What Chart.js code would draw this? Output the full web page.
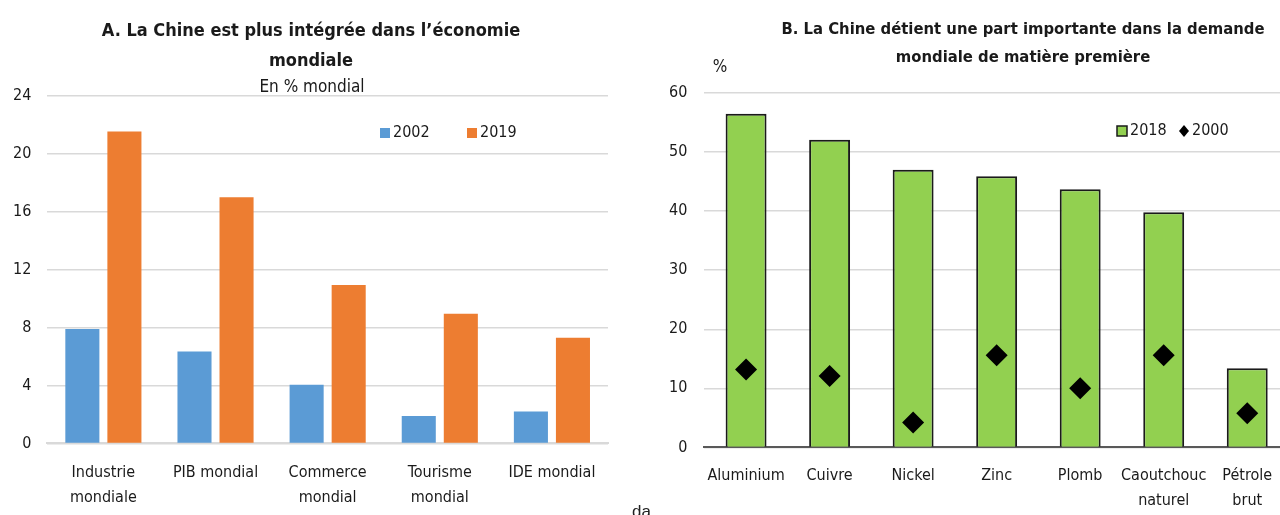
<!DOCTYPE html>
<html lang="fr">
<head>
<meta charset="utf-8">
<title>La Chine dans l'économie mondiale</title>
<script src="https://cdn.jsdelivr.net/npm/chart.js@4.4.1/dist/chart.umd.min.js"></script>
<style>
  html, body { margin: 0; padding: 0; background: #fff; overflow: hidden; }
  body { width: 1280px; height: 515px; position: relative; }
  #bloc-a { position: absolute; left: 0; top: 0; }
  #bloc-b { position: absolute; left: 640px; top: 0; }
  #note { position: absolute; left: 632px; top: 502px; font: 17px 'Liberation Sans', sans-serif; color: #222; }
</style>
</head>
<body>
<div id="bloc-a"><canvas id="graphique-a" width="640" height="515"></canvas></div>
<div id="bloc-b"><canvas id="graphique-b" width="660" height="515"></canvas></div>
<div id="note">da</div>
<script>
// Graphique A : part de la Chine, en % mondial
const categoriesA = [['Industrie', 'mondiale'], 'PIB mondial', ['Commerce', 'mondial'], ['Tourisme', 'mondial'], 'IDE mondial'];
const valeurs2002 = [7.9, 6.35, 4.05, 1.9, 2.2];
const valeurs2019 = [21.55, 17.0, 10.95, 8.95, 7.3];
const ticksA = [0, 4, 8, 12, 16, 20, 24];

// Graphique B : part de la demande mondiale de matières premières (%)
const categoriesB = ['Aluminium', 'Cuivre', 'Nickel', 'Zinc', 'Plomb', ['Caoutchouc', 'naturel'], ['Pétrole', 'brut']];
const valeurs2018 = [56.5, 52.1, 47.0, 45.9, 43.7, 39.8, 13.4];
const valeurs2000 = [13.2, 12.1, 4.2, 15.6, 10.0, 15.6, 5.8];
const ticksB = [0, 10, 20, 30, 40, 50, 60];

const POLICE = "'Liberation Sans Narrow', 'Arial Narrow', 'DejaVu Sans Condensed', sans-serif";
const COULEUR_TEXTE = '#1a1a1a';

// Titres dessinés à la main (position libre au-dessus du graphique)
const pluginTitres = {
    id: 'titres',
    afterDraw(chart, args, opts) {
        const ctx = chart.ctx;
        ctx.save();
        ctx.fillStyle = COULEUR_TEXTE;
        ctx.textBaseline = 'middle';
        opts.lignes.forEach(l => {
            ctx.font = (l.gras ? 'bold ' : '') + l.taille + 'px ' + POLICE;
            ctx.textAlign = l.align || 'center';
            ctx.fillText(l.texte, l.x, l.y);
        });
        ctx.restore();
    }
};

// Légende dans la zone du graphique
const pluginLegende = {
    id: 'legendeMaison',
    afterDraw(chart, args, opts) {
        const ctx = chart.ctx;
        ctx.save();
        ctx.font = opts.taille + 'px ' + POLICE;
        ctx.textBaseline = 'middle';
        ctx.textAlign = 'left';
        chart.data.datasets.forEach((ds, i) => {
            const x = opts.x[i];
            const y = opts.y;
            const s = opts.cote;
            if (ds.type === 'line') {
                // losange
                ctx.fillStyle = ds.backgroundColor;
                ctx.beginPath();
                ctx.moveTo(x, y - s / 2 - 1);
                ctx.lineTo(x + s / 2, y);
                ctx.lineTo(x, y + s / 2 + 1);
                ctx.lineTo(x - s / 2, y);
                ctx.closePath();
                ctx.fill();
            } else {
                ctx.fillStyle = ds.backgroundColor;
                ctx.fillRect(x - s / 2, y - s / 2, s, s);
                if (ds.borderWidth) {
                    ctx.strokeStyle = ds.borderColor;
                    ctx.lineWidth = 1.5;
                    ctx.strokeRect(x - s / 2, y - s / 2, s, s);
                }
            }
            ctx.fillStyle = COULEUR_TEXTE;
            ctx.fillText(ds.label, x + s / 2 + 3, y);
        });
        ctx.restore();
    }
};

function policeAxe() {
    return { family: POLICE, size: 16, lineHeight: 1.55 };
}

// Graphique A
new Chart(document.getElementById('graphique-a'), {
    type: 'bar',
    data: {
        labels: categoriesA,
        datasets: [
            { label: '2002', data: valeurs2002, backgroundColor: '#5b9bd5', categoryPercentage: 0.75, barPercentage: 0.81 },
            { label: '2019', data: valeurs2019, backgroundColor: '#ed7d31', categoryPercentage: 0.75, barPercentage: 0.81 }
        ]
    },
    options: {
        responsive: false,
        animation: false,
        layout: { padding: { top: 96, left: -3, right: 32, bottom: -12 } },
        scales: {
            x: {
                grid: { display: false, drawTicks: false },
                border: { color: '#d9d9d9', width: 2 },
                ticks: { color: COULEUR_TEXTE, font: policeAxe(), padding: 17, maxRotation: 0, autoSkip: false }
            },
            y: {
                min: ticksA[0],
                max: ticksA[ticksA.length - 1],
                ticks: { stepSize: ticksA[1] - ticksA[0], color: COULEUR_TEXTE, font: policeAxe(), padding: 16 },
                grid: { color: '#d9d9d9', lineWidth: 1.5, drawTicks: false },
                border: { display: false }
            }
        },
        plugins: {
            legend: { display: false },
            tooltip: { enabled: false },
            titres: {
                lignes: [
                    { texte: 'A. La Chine est plus intégrée dans l\u2019économie', x: 311, y: 31, taille: 18, gras: true },
                    { texte: 'mondiale', x: 311, y: 61, taille: 18, gras: true },
                    { texte: 'En % mondial', x: 312, y: 88, taille: 17 }
                ]
            },
            legendeMaison: { x: [385, 472], y: 133, cote: 10, taille: 16 }
        }
    },
    plugins: [pluginTitres, pluginLegende]
});

// Graphique B
new Chart(document.getElementById('graphique-b'), {
    type: 'bar',
    data: {
        labels: categoriesB,
        datasets: [
            {
                label: '2018', data: valeurs2018, backgroundColor: '#92d050',
                borderColor: '#1a1a1a', borderWidth: 2, categoryPercentage: 1, barPercentage: 0.49, order: 1
            },
            {
                type: 'line', label: '2000', data: valeurs2000, backgroundColor: '#000', borderColor: '#000',
                showLine: false, pointStyle: 'rectRot', pointRadius: 11, pointBorderWidth: 0, order: 0
            }
        ]
    },
    options: {
        responsive: false,
        animation: false,
        layout: { padding: { top: 93, left: 12, right: 11, bottom: -14 } },
        scales: {
            x: {
                grid: { display: false, drawTicks: false },
                border: { color: '#595959', width: 2 },
                ticks: { color: COULEUR_TEXTE, font: policeAxe(), padding: 16, maxRotation: 0, autoSkip: false }
            },
            y: {
                min: ticksB[0],
                max: ticksB[ticksB.length - 1],
                ticks: { stepSize: ticksB[1] - ticksB[0], color: COULEUR_TEXTE, font: policeAxe(), padding: 17 },
                grid: { color: '#d9d9d9', lineWidth: 1.5, drawTicks: false },
                border: { display: false }
            }
        },
        plugins: {
            legend: { display: false },
            tooltip: { enabled: false },
            titres: {
                lignes: [
                    { texte: 'B. La Chine détient une part importante dans la demande', x: 383, y: 30, taille: 16.5, gras: true },
                    { texte: 'mondiale de matière première', x: 383, y: 58, taille: 16.5, gras: true },
                    { texte: '%', x: 80, y: 68, taille: 17 }
                ]
            },
            legendeMaison: { x: [482, 544], y: 131, cote: 10, taille: 16 }
        }
    },
    plugins: [pluginTitres, pluginLegende]
});
</script>
</body>
</html>
